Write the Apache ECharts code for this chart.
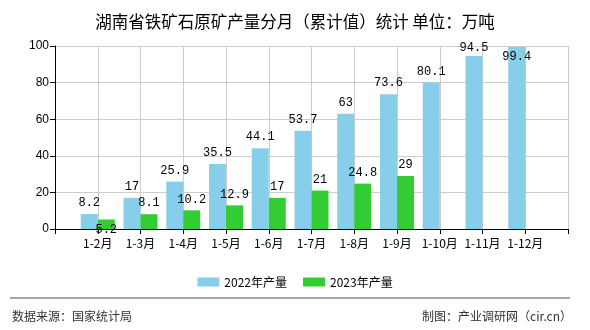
<!DOCTYPE html>
<html>
<head>
<meta charset="utf-8">
<script src="https://cdn.jsdelivr.net/npm/echarts@6/dist/echarts.min.js"></script>
<style>html,body{margin:0;padding:0;background:#fff}#c{width:590px;height:330px}</style>
</head>
<body>
<div id="c"></div>
<script>
var categories = ["1-2月","1-3月","1-4月","1-5月","1-6月","1-7月","1-8月","1-9月","1-10月","1-11月","1-12月"];
var values2022 = [8.2,17,25.9,35.5,44.1,53.7,63,73.6,80.1,94.5,99.4];
var values2023 = [5.2,8.1,10.2,12.9,17,21,24.8,29];
var yTicks = [0,20,40,60,80,100];

// padded category axis: empty slot at each end
var axisCats = [""].concat(categories).concat([""]);
function pad(arr){
  var out = [null];
  for (var i=0;i<categories.length;i++) out.push(i<arr.length?arr[i]:null);
  out.push(null);
  return out;
}
// label nudges (visual only)
var nudge2022 = {9:[0,3],10:[0,21]};
var nudge2023 = {0:[0,21]};
function withNudges(arr, nudges){
  return pad(arr).map(function(v,i){
    var k=i-1;
    if (v!==null && nudges[k]) return {value:v,label:{offset:nudges[k]}};
    return v;
  });
}
var chart = echarts.init(document.getElementById('c'));
var labelFont = {show:true,position:'top',distance:5,color:'#000',fontSize:12,fontFamily:'Liberation Mono, DejaVu Sans Mono, monospace'};
chart.setOption({
  animation:false,
  title:{text:'湖南省铁矿石原矿产量分月（累计值）统计 单位：万吨',left:'center',top:8,
    textStyle:{fontSize:16.5,fontWeight:'normal',color:'#000',fontFamily:'Noto Sans CJK SC'}},
  legend:{data:['2022年产量','2023年产量'],left:'center',top:271,itemWidth:22,itemHeight:9,itemGap:16,
    textStyle:{fontSize:12,color:'#000',fontFamily:'Noto Sans CJK SC'},icon:'rect'},
  grid:{left:55,right:22,top:46,bottom:101},
  xAxis:{type:'category',data:axisCats,boundaryGap:false,
    axisLine:{lineStyle:{color:'#000'}},axisTick:{show:true,length:5,lineStyle:{color:'#000'}},
    axisLabel:{color:'#000',fontSize:12,margin:8,interval:0,fontFamily:'Noto Sans CJK SC'},
    splitLine:{show:true,lineStyle:{color:'#ccc'}}},
  yAxis:{type:'value',min:yTicks[0],max:yTicks[yTicks.length-1],interval:20,
    axisLine:{show:true,lineStyle:{color:'#000'}},axisTick:{show:true,length:5,lineStyle:{color:'#000'}},
    axisLabel:{color:'#000',fontSize:12,margin:6,fontFamily:'Liberation Sans'},
    splitLine:{show:true,lineStyle:{color:'#ccc'}}},
  series:[
    {name:'2022年产量',type:'bar',barWidth:17,barGap:'0%',itemStyle:{color:'#87CEEB'},
     label:labelFont,data:withNudges(values2022,nudge2022)},
    {name:'2023年产量',type:'bar',barWidth:17,barGap:'0%',itemStyle:{color:'#33CC33'},
     label:labelFont,data:withNudges(values2023,nudge2023)}
  ],
  graphic:[
    {type:'line',shape:{x1:10,y1:298,x2:570,y2:298},style:{stroke:'#888',lineWidth:1.5}},
    {type:'text',left:12,top:310,style:{text:'数据来源：国家统计局',fontSize:12,fill:'#333',fontFamily:'Noto Sans CJK SC'}},
    {type:'text',right:18,top:310,style:{text:'制图：产业调研网（cir.cn）',fontSize:12,fill:'#333',fontFamily:'Noto Sans CJK SC'}}
  ]
});
</script>
</body>
</html>
